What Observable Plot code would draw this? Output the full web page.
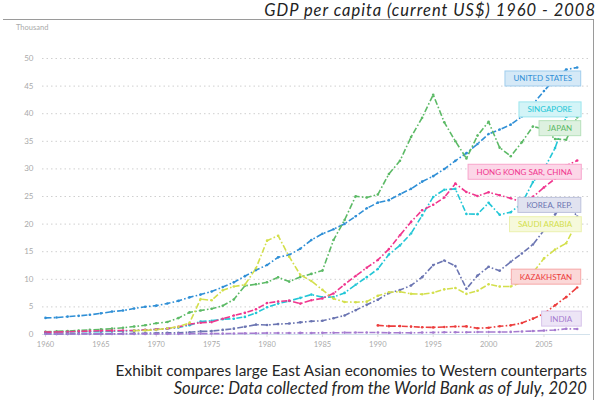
<!DOCTYPE html>
<html><head><meta charset="utf-8">
<script src="https://cdn.jsdelivr.net/npm/d3@7"></script>
<script src="https://cdn.jsdelivr.net/npm/@observablehq/plot@0.6"></script>
<style>
body{margin:0;background:#fff;font-family:Lato,"Open Sans",sans-serif}
#wrap{position:relative;width:600px;height:400px;overflow:hidden}
#title{position:absolute;right:4px;top:0px;font-style:italic;font-size:16.5px;line-height:normal;letter-spacing:1px;color:#222;white-space:nowrap}
#frame{position:absolute;left:3px;top:19px;width:591px;height:400px;border-top:1px solid #9a9a9a;border-right:1px solid #9a9a9a;box-sizing:border-box;pointer-events:none}
#unit{position:absolute;left:16px;top:23px;font-size:7.5px;color:#aaa}
#chart{position:absolute;left:0;top:20px}
#cap{position:absolute;right:13px;top:361px;text-align:right;color:#262626;white-space:nowrap}
#cap .l1{font-size:15.4px;line-height:18px}
#cap .src{font-style:italic;font-size:16.6px;line-height:18px}
</style></head>
<body>
<div id="wrap">
  <div id="frame"></div>
  <div id="title">GDP per capita (current US$) 1960 - 2008</div>
  <div id="unit">Thousand</div>
  <div id="chart"></div>
  <div id="cap"><div class="l1">Exhibit compares large East Asian economies to Western counterparts</div><div class="src">Source: Data collected from the World Bank as of July, 2020</div></div>
</div>
<script>
// Years 1960 - 2008, values in thousand current US$
const years = d3.range(1960, 2009);
const countries = ["UNITED STATES","SINGAPORE","JAPAN","HONG KONG SAR, CHINA","KOREA, REP.","SAUDI ARABIA","KAZAKHSTAN","INDIA"];
const unitedStates = [3.01,3.07,3.24,3.38,3.57,3.83,4.15,4.34,4.70,5.03, 5.23,5.61,6.09,6.73,7.23,7.80,8.59,9.45,10.57,11.67, 12.58,13.98,14.43,15.54,17.12,18.24,19.07,20.04,21.42,22.86, 23.89,24.34,25.42,26.39,27.69,28.69,29.97,31.46,32.85,34.52, 36.33,37.13,38.02,39.50,41.71,44.12,46.30,47.98,48.38];
const singapore = [0.43,0.45,0.47,0.51,0.49,0.52,0.57,0.63,0.71,0.81, 0.93,1.07,1.26,1.69,2.34,2.49,2.77,2.85,3.19,3.90, 4.93,5.60,6.08,6.63,7.23,6.76,6.79,7.54,9.02,10.39, 11.86,14.50,16.14,18.30,21.58,24.92,26.23,26.38,21.83,21.80, 23.85,21.70,22.16,23.73,27.61,29.96,33.77,39.43,39.72];
const japan = [0.48,0.56,0.63,0.72,0.84,0.92,1.06,1.23,1.45,1.67, 2.04,2.27,2.97,4.00,4.35,4.66,5.20,6.34,8.82,9.10, 9.46,10.36,9.58,10.43,10.98,11.58,17.11,20.75,25.05,24.81, 25.36,29.08,31.47,35.77,39.27,43.44,38.44,35.02,31.90,36.03, 38.53,33.85,32.29,34.81,37.69,37.22,35.43,35.28,39.34];
const hongKong = [0.43,0.44,0.49,0.56,0.62,0.68,0.70,0.72,0.71,0.83, 0.93,1.07,1.38,1.89,2.13,2.25,2.85,3.43,3.92,4.57, 5.70,5.99,6.13,5.60,6.21,6.54,7.44,9.07,10.61,12.10, 13.49,15.47,17.98,20.40,22.50,23.50,24.82,27.33,25.81,25.09, 25.76,25.23,24.67,23.98,24.93,26.65,28.22,30.59,31.52];
const korea = [0.16,0.09,0.11,0.15,0.12,0.11,0.13,0.16,0.20,0.24, 0.28,0.30,0.32,0.41,0.56,0.62,0.83,1.06,1.41,1.78, 1.72,1.88,1.99,2.20,2.41,2.48,2.95,3.45,4.40,5.40, 6.30,7.50,8.05,8.89,10.39,12.57,13.40,12.40,8.28,10.67, 12.26,11.56,13.17,14.67,16.30,18.90,21.74,24.09,21.35];
const saudiArabia = [null,null,null,null,null,null,null,null,0.70,0.74, 0.87,1.12,1.41,2.10,6.40,6.20,8.00,8.70,9.00,12.00, 17.00,17.90,14.10,10.80,9.70,8.10,6.50,5.90,5.85,5.95, 7.00,7.65,7.75,7.36,7.30,7.57,8.18,8.43,7.36,7.93, 9.10,8.69,8.70,9.50,11.19,13.79,15.39,16.52,20.40];
const kazakhstan = [null,null,null,null,null,null,null,null,null,null, null,null,null,null,null,null,null,null,null,null, null,null,null,null,null,null,null,null,null,null, 1.65,1.51,1.52,1.43,1.32,1.29,1.35,1.45,1.47,1.13, 1.23,1.49,1.66,2.07,2.87,3.77,5.29,6.77,8.51];
const india = [0.08,0.09,0.09,0.10,0.12,0.12,0.09,0.10,0.10,0.11, 0.11,0.12,0.12,0.14,0.16,0.16,0.16,0.19,0.21,0.22, 0.27,0.27,0.27,0.29,0.28,0.30,0.31,0.34,0.35,0.35, 0.37,0.30,0.32,0.30,0.35,0.37,0.40,0.42,0.41,0.44, 0.44,0.45,0.47,0.55,0.63,0.71,0.81,1.03,1.00];
// where each series' label box sits (thousand US$)
const labelLevels = [46.3,40.7,37.3,29.4,23.4,19.9,10.4,2.8];
const yTicks = d3.range(0, 55, 5);
const xTicks = d3.range(1960, 2010, 5);
const colors = ["#2f8fd6","#22c6d6","#5cba66","#f0368e","#6b75b2","#d3df4c","#ec3d3d","#a57bd0"];

const seriesValues = [unitedStates, singapore, japan, hongKong, korea, saudiArabia, kazakhstan, india];
const rows = [];
seriesValues.forEach((vals, k) => vals.forEach((v, i) => { if (v != null) rows.push({country: countries[k], year: years[i], value: v}); }));
const labels = countries.map((c, k) => ({country: c, year: years[years.length - 1], level: labelLevels[k]}));

const plot = Plot.plot({
  width: 600, height: 335,
  marginLeft: 42, marginRight: 10, marginTop: 38, marginBottom: 21,
  style: {fontFamily: "Lato, 'Open Sans', sans-serif", background: "transparent"},
  x: {domain: [1959.73, 2009.2]},
  y: {domain: [0, 50]},
  color: {domain: countries, range: colors},
  marks: [
    Plot.ruleY(yTicks.filter(d => d > 0), {stroke: "#cfcfcf", strokeDasharray: "1.5,3"}),
    Plot.ruleY([0], {stroke: "#d3e2ec"}),
    Plot.axisY({ticks: yTicks, tickSize: 0, tickPadding: 9, fill: "#aaa", fontSize: 8, label: null}),
    Plot.axisX({ticks: xTicks, tickFormat: d => String(d), tickSize: 3, stroke: "#ddd", tickPadding: 4, fill: "#aaa", fontSize: 7.5, label: null}),
    Plot.lineY(rows, {x: "year", y: "value", z: "country", stroke: "country", strokeWidth: 1.6, strokeLinecap: "butt", strokeDasharray: "6,2.2,1.6,2.2"}),
    Plot.dot(rows, {x: "year", y: "value", fill: "country", r: 1.3}),
    Plot.text(labels, {x: "year", y: "level", text: "country", fill: "country", textAnchor: "end", dx: -5, fontSize: 8})
  ]
});
document.getElementById("chart").appendChild(plot);

// boxes behind series labels
d3.select(plot).selectAll("text").filter(function() { return countries.includes(this.textContent); }).each(function() {
  const t = this;
  const b = t.getBBox();
  const col = t.getAttribute("fill");
  const padX = 8.5, h = 15;
  const cy = b.y + b.height / 2;
  const r = d3.select(t.parentNode).insert("rect", () => t)
    .attr("x", b.x - padX).attr("y", cy - h / 2)
    .attr("width", b.width + 2 * padX).attr("height", h)
    .attr("fill", d3.interpolateRgb("#fff", col)(0.2))
    .attr("stroke", d3.interpolateRgb("#fff", col)(0.45))
    .attr("stroke-width", 1);
  const tr = t.getAttribute("transform");
  if (tr) r.attr("transform", tr);
});
</script>
</body></html>
